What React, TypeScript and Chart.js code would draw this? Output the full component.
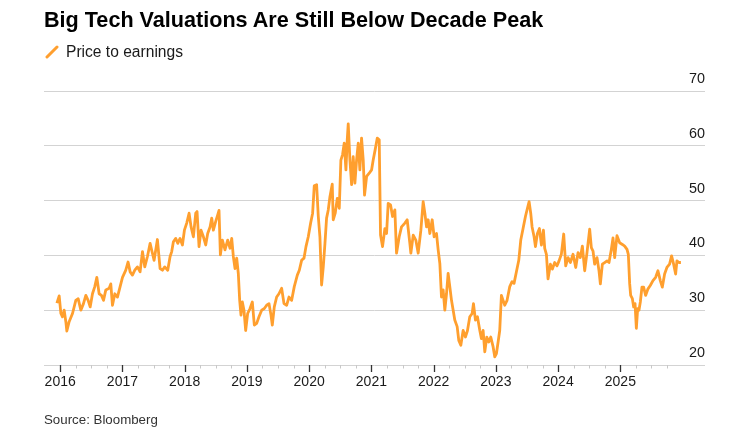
import React, { useEffect, useRef } from "react";
import { Chart, registerables } from "chart.js";

Chart.register(...registerables);

const titleText = "Big Tech Valuations Are Still Below Decade Peak";
const seriesName = "Price to earnings";
const sourceText = "Source: Bloomberg";

const yearLabels = [2016, 2017, 2018, 2019, 2020, 2021, 2022, 2023, 2024, 2025];
const yTicks = [20, 30, 40, 50, 60, 70];

// observation dates as decimal years
const dates = [
  2015.947, 2015.984, 2016.011, 2016.037, 2016.064, 2016.091, 2016.107, 2016.144, 2016.198, 2016.251,
  2016.289, 2016.332, 2016.374, 2016.412, 2016.449, 2016.482, 2016.519, 2016.556, 2016.589, 2016.626,
  2016.663, 2016.696, 2016.733, 2016.787, 2016.813, 2016.840, 2016.878, 2016.920, 2016.963, 2017.001,
  2017.054, 2017.091, 2017.124, 2017.161, 2017.199, 2017.241, 2017.284, 2017.322, 2017.359, 2017.402,
  2017.445, 2017.482, 2017.509, 2017.562, 2017.605, 2017.643, 2017.680, 2017.728, 2017.766, 2017.792,
  2017.819, 2017.857, 2017.889, 2017.926, 2017.964, 2017.996, 2018.033, 2018.071, 2018.103, 2018.140,
  2018.178, 2018.199, 2018.231, 2018.263, 2018.301, 2018.338, 2018.370, 2018.408, 2018.435, 2018.461,
  2018.499, 2018.531, 2018.552, 2018.574, 2018.606, 2018.648, 2018.691, 2018.729, 2018.756, 2018.782,
  2018.809, 2018.836, 2018.862, 2018.884, 2018.905, 2018.927, 2018.953, 2018.980, 2019.012, 2019.050,
  2019.087, 2019.119, 2019.157, 2019.194, 2019.237, 2019.280, 2019.317, 2019.355, 2019.387, 2019.408,
  2019.440, 2019.478, 2019.515, 2019.558, 2019.596, 2019.638, 2019.676, 2019.719, 2019.761, 2019.810,
  2019.842, 2019.879, 2019.917, 2019.949, 2019.986, 2020.024, 2020.056, 2020.082, 2020.120, 2020.147,
  2020.173, 2020.200, 2020.227, 2020.254, 2020.280, 2020.307, 2020.334, 2020.371, 2020.387, 2020.419,
  2020.452, 2020.484, 2020.510, 2020.537, 2020.564, 2020.591, 2020.612, 2020.628, 2020.655, 2020.682,
  2020.708, 2020.735, 2020.762, 2020.789, 2020.815, 2020.842, 2020.869, 2020.890, 2020.923, 2020.965,
  2021.003, 2021.029, 2021.061, 2021.094, 2021.126, 2021.147, 2021.179, 2021.217, 2021.244, 2021.270,
  2021.308, 2021.340, 2021.377, 2021.404, 2021.447, 2021.484, 2021.538, 2021.575, 2021.618, 2021.634,
  2021.672, 2021.714, 2021.752, 2021.795, 2021.832, 2021.859, 2021.886, 2021.912, 2021.939, 2021.977,
  2022.008, 2022.046, 2022.073, 2022.100, 2022.126, 2022.153, 2022.180, 2022.207, 2022.233, 2022.260,
  2022.287, 2022.314, 2022.340, 2022.378, 2022.404, 2022.437, 2022.474, 2022.511, 2022.544, 2022.581,
  2022.619, 2022.640, 2022.672, 2022.704, 2022.742, 2022.768, 2022.795, 2022.822, 2022.854, 2022.886,
  2022.918, 2022.956, 2022.982, 2023.009, 2023.036, 2023.062, 2023.089, 2023.116, 2023.143, 2023.180,
  2023.223, 2023.260, 2023.292, 2023.330, 2023.368, 2023.400, 2023.437, 2023.475, 2023.507, 2023.534,
  2023.560, 2023.582, 2023.614, 2023.636, 2023.667, 2023.700, 2023.732, 2023.764, 2023.785, 2023.812,
  2023.838, 2023.876, 2023.908, 2023.945, 2023.983, 2024.015, 2024.052, 2024.090, 2024.122, 2024.160,
  2024.197, 2024.240, 2024.283, 2024.320, 2024.357, 2024.390, 2024.427, 2024.464, 2024.507, 2024.534,
  2024.561, 2024.587, 2024.625, 2024.657, 2024.679, 2024.711, 2024.748, 2024.786, 2024.818, 2024.855,
  2024.882, 2024.909, 2024.946, 2024.989, 2025.032, 2025.069, 2025.107, 2025.128, 2025.150, 2025.166,
  2025.193, 2025.214, 2025.236, 2025.257, 2025.278, 2025.299, 2025.321, 2025.347, 2025.374, 2025.406,
  2025.444, 2025.481, 2025.524, 2025.567, 2025.604, 2025.642, 2025.674, 2025.711, 2025.748, 2025.791,
  2025.823, 2025.856, 2025.888, 2025.909, 2025.941, 2025.973,
];

const peValues = [
  31.3, 32.6, 29.4, 28.8, 30.0, 27.9, 26.2, 27.9, 29.4, 31.8,
  32.1, 30.0, 31.2, 32.7, 31.8, 30.6, 33.0, 34.3, 36.0, 33.0,
  32.7, 31.8, 33.7, 34.0, 34.8, 30.9, 33.0, 32.4, 34.3, 36.0,
  37.3, 38.8, 37.0, 36.4, 37.3, 37.9, 37.0, 40.7, 37.9, 39.8,
  42.2, 40.4, 39.1, 42.9, 37.6, 37.3, 37.9, 37.3, 39.8, 40.7,
  42.5, 43.1, 42.2, 43.1, 41.9, 44.6, 45.9, 47.7, 45.2, 43.4,
  47.7, 48.0, 41.6, 44.6, 43.4, 41.9, 44.0, 45.2, 46.8, 44.6,
  46.2, 47.4, 48.2, 40.1, 42.8, 41.0, 42.8, 41.3, 43.1, 39.8,
  37.6, 39.5, 36.7, 31.8, 29.1, 31.5, 30.0, 26.3, 29.4, 30.3,
  31.5, 27.3, 27.6, 28.8, 30.0, 30.3, 30.9, 31.2, 29.1, 27.3,
  30.6, 32.4, 33.0, 34.0, 31.2, 30.9, 32.4, 31.8, 34.3, 36.4,
  37.3, 39.1, 39.5, 41.6, 43.4, 45.9, 47.7, 52.7, 52.9, 47.1,
  43.4, 34.6, 37.9, 42.2, 46.8, 48.3, 50.7, 53.0, 46.5, 47.7,
  50.4, 48.6, 57.4, 58.4, 60.5, 55.6, 61.1, 64.0, 57.4, 52.9,
  58.0, 53.2, 57.4, 60.5, 55.6, 61.4, 57.4, 51.0, 54.4, 55.0,
  55.6, 57.4, 59.3, 61.4, 61.1, 43.7, 41.6, 44.9, 44.0, 49.5,
  49.2, 47.1, 48.3, 40.4, 43.4, 45.2, 45.9, 46.5, 42.2, 40.4,
  43.7, 42.8, 40.4, 44.6, 49.8, 47.7, 45.2, 46.5, 44.0, 46.5,
  43.4, 44.0, 41.0, 38.5, 32.4, 33.7, 30.0, 33.0, 36.7, 34.3,
  31.8, 30.0, 28.2, 27.0, 24.5, 23.6, 26.3, 25.1, 26.3, 28.8,
  29.4, 31.2, 28.2, 28.8, 26.3, 24.8, 26.3, 22.4, 25.1, 24.2,
  25.1, 23.3, 21.5, 22.1, 24.2, 26.3, 32.7, 31.8, 30.9, 31.8,
  34.3, 35.2, 34.9, 37.0, 39.1, 42.8, 44.9, 47.1, 48.6, 49.8,
  47.7, 45.2, 43.4, 41.6, 44.0, 44.9, 41.9, 44.6, 41.3, 40.2,
  35.7, 38.4, 37.5, 38.7, 38.1, 39.0, 40.2, 43.9, 38.1, 39.6,
  38.7, 40.2, 37.8, 40.5, 39.6, 41.7, 37.2, 40.5, 44.8, 41.4,
  40.8, 38.4, 39.6, 37.2, 34.8, 38.4, 38.7, 39.0, 38.7, 41.1,
  43.2, 39.6, 43.6, 42.3, 42.0, 41.7, 41.1, 40.2, 34.8, 32.7,
  32.1, 30.6, 31.2, 26.7, 30.3, 30.0, 31.5, 34.2, 34.2, 32.7,
  33.9, 34.5, 35.4, 36.0, 37.2, 35.4, 34.2, 36.6, 37.8, 38.4,
  39.9, 38.4, 36.6, 39.0, 38.7, 38.7,
];

const FONT = "'Liberation Sans', Arial, Helvetica, sans-serif";
const LINE_COLOR = "#ff9f2e";

export default function App() {
  const canvasRef = useRef<HTMLCanvasElement>(null);

  useEffect(() => {
    if (!canvasRef.current) return;
    const points = dates.map((d, i) => ({ x: d, y: peValues[i] }));

    const quarterTicks = {
      id: "quarterTicks",
      afterDraw(chart: any) {
        const xs = chart.scales.x;
        const ctx = chart.ctx;
        const bottom = chart.chartArea.bottom;
        const n = yearLabels.length * 4;
        for (let k = 0; k < n; k++) {
          const v = yearLabels[0] + k / 4;
          const major = k % 4 === 0;
          const px = Math.round(xs.getPixelForValue(v)) + 0.5;
          ctx.save();
          ctx.strokeStyle = major ? "#333333" : "#c8c8c8";
          ctx.lineWidth = major ? 1.3 : 1;
          ctx.beginPath();
          ctx.moveTo(px, bottom);
          ctx.lineTo(px, bottom + (major ? 7 : 3.5));
          ctx.stroke();
          ctx.restore();
        }
      },
    };

    const chart = new Chart(canvasRef.current, {
      type: "line",
      data: {
        datasets: [
          {
            label: seriesName,
            data: points,
            borderColor: LINE_COLOR,
            backgroundColor: LINE_COLOR,
            borderWidth: 2.8,
            pointRadius: 0,
            tension: 0,
            borderJoinStyle: "round",
          },
        ],
      },
      options: {
        animation: false,
        responsive: false,
        layout: { padding: { left: 44, right: 36, top: 91, bottom: 0 } },
        plugins: {
          legend: { display: false },
          tooltip: { enabled: false },
          title: { display: false },
        },
        scales: {
          x: {
            type: "linear",
            min: 2015.74,
            max: 2026.36,
            grid: { display: false, drawTicks: false },
            border: { display: false },
            afterBuildTicks: (s: any) => {
              s.ticks = yearLabels.map((v) => ({ value: v }));
            },
            afterFit: (s: any) => {
              s.height = 70;
            },
            ticks: {
              autoSkip: false,
              maxRotation: 0,
              padding: 9,
              color: "#1a1a1a",
              font: { family: FONT, size: 14 },
              callback: (v: any) => String(v),
            },
          },
          y: {
            type: "linear",
            position: "right",
            min: 20,
            max: 70,
            afterBuildTicks: (s: any) => {
              s.ticks = yTicks.map((v) => ({ value: v }));
            },
            afterFit: (s: any) => {
              s.width = 0;
            },
            grid: { color: "#d3d3d3", lineWidth: 1, drawTicks: false },
            border: { display: false },
            ticks: {
              mirror: true,
              padding: 0,
              labelOffset: -12,
              color: "#1a1a1a",
              font: { family: FONT, size: 14.4 },
            },
          },
        },
      },
      plugins: [quarterTicks],
    } as any);

    return () => chart.destroy();
  }, []);

  return (
    <div
      style={{
        position: "fixed",
        left: 0,
        top: 0,
        width: 741,
        height: 435,
        background: "#ffffff",
        fontFamily: FONT,
        overflow: "hidden",
      }}
    >
      <canvas
        ref={canvasRef}
        width={741}
        height={435}
        style={{ position: "absolute", left: 0, top: 0, width: 741, height: 435 }}
      />
      <div
        style={{
          position: "absolute",
          left: 44,
          top: 9,
          fontSize: 21.6,
          lineHeight: "21px",
          fontWeight: 700,
          color: "#000",
          whiteSpace: "nowrap",
        }}
      >
        {titleText}
      </div>
      <div
        style={{
          position: "absolute",
          left: 44,
          top: 44,
          height: 16,
          display: "flex",
          alignItems: "center",
          whiteSpace: "nowrap",
        }}
      >
        <svg width="14" height="14" style={{ marginLeft: 1, marginRight: 7 }}>
          <line x1="2" y1="12" x2="12" y2="2" stroke={LINE_COLOR} strokeWidth="3" strokeLinecap="round" />
        </svg>
        <span style={{ fontSize: 15.6, lineHeight: "16px", color: "#1a1a1a" }}>{seriesName}</span>
      </div>
      <div
        style={{
          position: "absolute",
          left: 44,
          top: 413,
          fontSize: 13.3,
          lineHeight: "13px",
          color: "#333",
          whiteSpace: "nowrap",
        }}
      >
        {sourceText}
      </div>
    </div>
  );
}
